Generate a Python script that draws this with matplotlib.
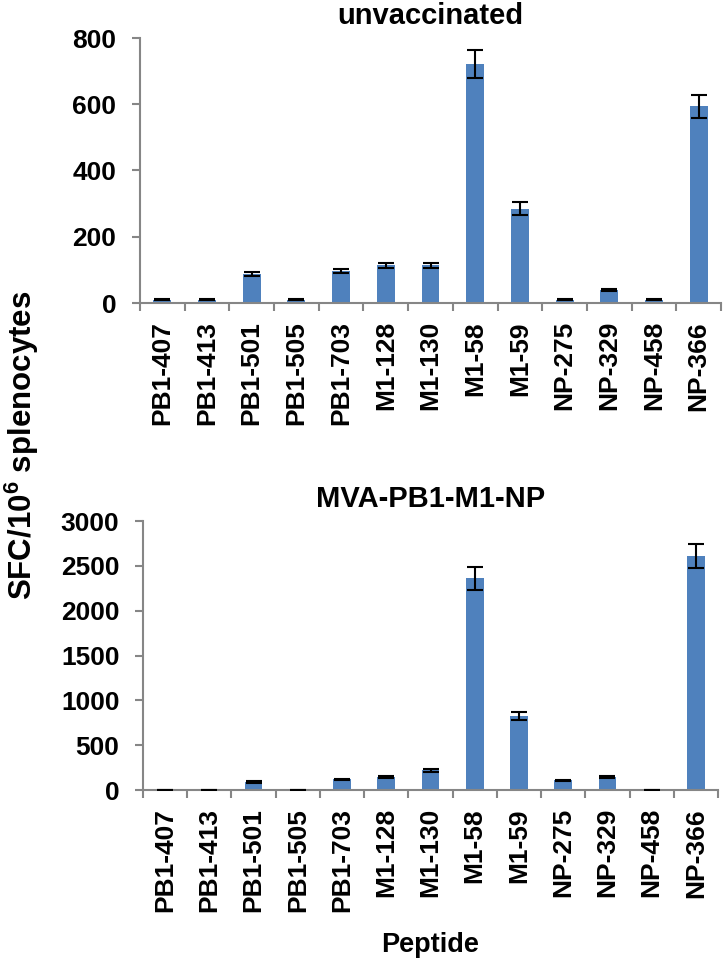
import matplotlib
matplotlib.use("Agg")
import matplotlib.pyplot as plt
import numpy as np

plt.rcParams['font.family'] = ['Liberation Sans', 'DejaVu Sans']
plt.rcParams['font.weight'] = 'bold'
plt.rcParams['mathtext.fontset'] = 'custom'
plt.rcParams['mathtext.rm'] = 'Liberation Sans:bold'
plt.rcParams['mathtext.bf'] = 'Liberation Sans:bold'
plt.rcParams['mathtext.default'] = 'bf'

peptides = ["PB1-407", "PB1-413", "PB1-501", "PB1-505", "PB1-703", "M1-128", "M1-130",
            "M1-58", "M1-59", "NP-275", "NP-329", "NP-458", "NP-366"]

unvacc = [10, 10, 88, 10, 98, 114, 114, 722, 285, 10, 40, 10, 594]
unvacc_err = [2, 2, 6, 2, 6, 8, 8, 43, 19, 2, 3, 2, 35]

mva = [3, 3, 92, 3, 118, 145, 219, 2361, 828, 107, 145, 3, 2610]
mva_err = [1, 1, 10, 1, 10, 12, 15, 125, 45, 10, 12, 1, 137]

titles = ["unvaccinated", "MVA-PB1-M1-NP"]
ylims = [800, 3000]
yticks = [[0, 200, 400, 600, 800], [0, 500, 1000, 1500, 2000, 2500, 3000]]

W, H = 728, 971
fig = plt.figure(figsize=(W / 100, H / 100), dpi=100)

boxes = [(140, 38, 721, 303), (143, 521, 718, 790)]
bar_color = '#4F81BD'
spine_color = '#868686'

for i, (vals, errs) in enumerate([(unvacc, unvacc_err), (mva, mva_err)]):
    x0, y0, x1, y1 = boxes[i]
    ax = fig.add_axes([x0 / W, 1 - y1 / H, (x1 - x0) / W, (y1 - y0) / H])
    x = np.arange(len(peptides))
    ax.bar(x, vals, width=0.4, color=bar_color, zorder=2)
    ax.errorbar(x, vals, yerr=errs, fmt='none', ecolor='black', elinewidth=1.5,
                capsize=5.5, capthick=1.5, zorder=3)
    ax.set_xlim(-0.5, len(peptides) - 0.5)
    ax.set_ylim(0, ylims[i])
    ax.set_yticks(yticks[i])
    ax.set_yticklabels([str(t) for t in yticks[i]], fontsize=19, fontweight='bold')
    ax.set_xticks(np.arange(len(peptides) + 1) - 0.5)
    ax.set_xticklabels([])
    ax.set_xticks(x, minor=True)
    ax.set_xticklabels(peptides, minor=True, rotation=90, fontsize=19, fontweight='bold')
    ax.tick_params(axis='x', which='minor', length=0, pad=13)
    ax.tick_params(axis='x', which='major', length=6, width=1.5, color=spine_color, direction='out')
    ax.tick_params(axis='y', length=6, width=1.5, color=spine_color, direction='out', pad=11)
    for s in ['top', 'right']:
        ax.spines[s].set_visible(False)
    for s in ['left', 'bottom']:
        ax.spines[s].set_color(spine_color)
        ax.spines[s].set_linewidth(1.5)
    ax.set_title(titles[i], fontsize=21, fontweight='bold', pad=10)

fig.text(22 / W, 1 - 445 / H, r'SFC/10$^{6}$ splenocytes', rotation=90, fontsize=22.5,
         fontweight='bold', ha='center', va='center')
fig.text(430 / W, 1 - 945 / H, 'Peptide', fontsize=19.5, fontweight='bold', ha='center', va='center')

fig.savefig('out.png', dpi=100)
